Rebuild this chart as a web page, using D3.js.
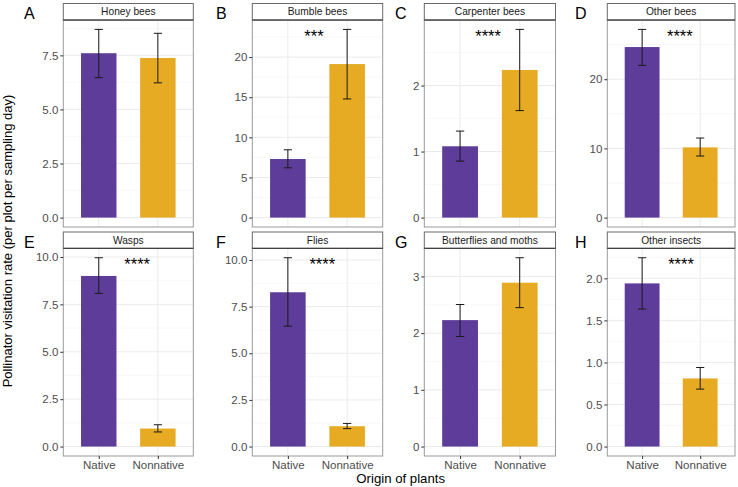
<!DOCTYPE html>
<html>
<head>
<meta charset="utf-8">
<script src="https://cdn.jsdelivr.net/npm/d3@7"></script>
<style>
  html, body { margin: 0; padding: 0; background: #fff; }
  svg { display: block; font-family: "Liberation Sans", Arial, Helvetica, sans-serif; }
</style>
</head>
<body>
<svg id="chart" width="738" height="487"></svg>
<script>
// ---------------- data ----------------
const panelTitles = ["Honey bees", "Bumble bees", "Carpenter bees", "Other bees",
                     "Wasps", "Flies", "Butterflies and moths", "Other insects"];
const panelLetters = ["A", "B", "C", "D", "E", "F", "G", "H"];
const categories = ["Native", "Nonnative"];
const nativeMean  = [7.60, 7.30, 1.08, 24.65, 9.00, 8.27, 2.23, 1.94];
const nativeLower = [6.47, 6.20, 0.855, 22.0, 8.08, 6.45, 1.94, 1.635];
const nativeUpper = [8.70, 8.45, 1.31, 27.2, 9.96, 10.12, 2.505, 2.245];
const nonnativeMean  = [7.38, 19.13, 2.236, 10.15, 0.95, 1.09, 2.89, 0.81];
const nonnativeLower = [6.23, 14.78, 1.62, 8.90, 0.77, 0.96, 2.45, 0.683];
const nonnativeUpper = [8.52, 23.45, 2.85, 11.50, 1.15, 1.24, 3.33, 0.94];
const signifLabels = ["", "***", "****", "****", "****", "****", "", "****"];
const signifX = [null, 1.44, 1.47, 1.65, 1.65, 1.58, null, 1.67];
const yTicks = [
  [0, 2.5, 5, 7.5],
  [0, 5, 10, 15, 20],
  [0, 1, 2],
  [0, 10, 20],
  [0, 2.5, 5, 7.5, 10],
  [0, 2.5, 5, 7.5, 10],
  [0, 1, 2, 3],
  [0, 0.5, 1, 1.5, 2]
];
const yTickFormats = [".1f", "d", "d", "d", ".1f", ".1f", "d", ".1f"];
const xTitle = "Origin of plants";
const yTitle = "Pollinator visitation rate (per plot per sampling day)";

// ---------------- layout ----------------
const colors = { Native: "#5E3C99", Nonnative: "#E6AB22" };
const colLeft  = [63.3, 252.3, 424.3, 607.3];
const colRight = [193.3, 382.7, 555.5, 735];
const letterX  = [24, 216, 395, 575];
const rows = [
  { stripTop: 3.5, panelTop: 20, panelBottom: 227, letterY: 18.8 },
  { stripTop: 232, panelTop: 248.3, panelBottom: 456, letterY: 247.6 }
];

const svg = d3.select("#chart");

panelTitles.forEach((title, i) => {
  const r = Math.floor(i / 4), c = i % 4;
  const row = rows[r];
  const L = colLeft[c], R = colRight[c];
  const g = svg.append("g");

  const M = Math.max(nativeUpper[i], nonnativeUpper[i]);
  const y = d3.scaleLinear().domain([-0.05 * M, 1.05 * M]).range([row.panelBottom, row.panelTop]);
  const x = d3.scaleLinear().domain([0.4, 2.6]).range([L, R]);
  const catPos = cat => x(categories.indexOf(cat) + 1);

  // minor grid
  const ticks = yTicks[i];
  const step = ticks[1] - ticks[0];
  const minors = ticks.map(t => t + step / 2).filter(v => v <= 1.05 * M);
  g.selectAll(".minor").data(minors).enter().append("line")
    .attr("x1", L).attr("x2", R)
    .attr("y1", d => y(d)).attr("y2", d => y(d))
    .attr("stroke", "#F3F3F3").attr("stroke-width", 0.6);
  // major grid
  g.selectAll(".major").data(ticks).enter().append("line")
    .attr("x1", L).attr("x2", R)
    .attr("y1", d => y(d)).attr("y2", d => y(d))
    .attr("stroke", "#EBEBEB").attr("stroke-width", 1);
  g.selectAll(".vmajor").data(categories).enter().append("line")
    .attr("x1", d => catPos(d)).attr("x2", d => catPos(d))
    .attr("y1", row.panelTop).attr("y2", row.panelBottom)
    .attr("stroke", "#EBEBEB").attr("stroke-width", 1);

  const data = [
    { cat: "Native", mean: nativeMean[i], lo: nativeLower[i], hi: nativeUpper[i] },
    { cat: "Nonnative", mean: nonnativeMean[i], lo: nonnativeLower[i], hi: nonnativeUpper[i] }
  ];
  const barW = x(1.3) - x(1);
  // bars
  g.selectAll(".bar").data(data).enter().append("rect")
    .attr("x", d => catPos(d.cat) - barW)
    .attr("width", barW * 2)
    .attr("y", d => y(d.mean))
    .attr("height", d => y(0) - y(d.mean))
    .attr("fill", d => colors[d.cat]);
  // error bars
  const capW = (x(1.07) - x(1));
  const eb = g.selectAll(".eb").data(data).enter().append("g").attr("stroke", "#1a1a1a").attr("stroke-width", 1);
  eb.append("line").attr("x1", d => catPos(d.cat)).attr("x2", d => catPos(d.cat))
    .attr("y1", d => y(d.lo)).attr("y2", d => y(d.hi));
  eb.append("line").attr("x1", d => catPos(d.cat) - capW).attr("x2", d => catPos(d.cat) + capW)
    .attr("y1", d => y(d.lo)).attr("y2", d => y(d.lo));
  eb.append("line").attr("x1", d => catPos(d.cat) - capW).attr("x2", d => catPos(d.cat) + capW)
    .attr("y1", d => y(d.hi)).attr("y2", d => y(d.hi));

  // significance
  if (signifLabels[i]) {
    g.append("text").attr("x", x(signifX[i])).attr("y", y(M) + 12.7)
      .attr("text-anchor", "middle").attr("font-size", 16.5).attr("fill", "#000")
      .text(signifLabels[i]);
  }

  // panel border
  g.append("rect").attr("x", L).attr("y", row.panelTop)
    .attr("width", R - L).attr("height", row.panelBottom - row.panelTop)
    .attr("fill", "none").attr("stroke", "#9A9A9A").attr("stroke-width", 1);
  // strip
  g.append("rect").attr("x", L).attr("y", row.stripTop)
    .attr("width", R - L).attr("height", row.panelTop - row.stripTop)
    .attr("fill", "#fff").attr("stroke", "#6a6a6a").attr("stroke-width", 1);
  g.append("line").attr("x1", L).attr("x2", R).attr("y1", row.panelTop).attr("y2", row.panelTop)
    .attr("stroke", "#333").attr("stroke-width", 1);
  g.append("text").attr("x", (L + R) / 2).attr("y", (row.stripTop + row.panelTop) / 2 + 3.6)
    .attr("text-anchor", "middle").attr("font-size", 10.2).attr("fill", "#1A1A1A")
    .text(title);

  // y axis
  const yAxis = d3.axisLeft(y).tickValues(ticks).tickFormat(d3.format(yTickFormats[i]))
    .tickSize(3).tickPadding(2);
  const ya = g.append("g").attr("transform", `translate(${L},0)`).call(yAxis);
  ya.select(".domain").remove();
  ya.selectAll(".tick line").attr("stroke", "#333");
  ya.selectAll(".tick text").attr("fill", "#4D4D4D").attr("font-size", 11.5)
    .attr("font-family", "Liberation Sans, Arial, sans-serif");

  // x axis (bottom row only)
  if (r === 1) {
    const xAxis = d3.axisBottom(x).tickValues([1, 2]).tickFormat(d => categories[d - 1])
      .tickSize(3).tickPadding(2);
    const xa = g.append("g").attr("transform", `translate(0,${row.panelBottom})`).call(xAxis);
    xa.select(".domain").remove();
    xa.selectAll(".tick line").attr("stroke", "#333");
    xa.selectAll(".tick text").attr("fill", "#4D4D4D").attr("font-size", 11.5)
      .attr("font-family", "Liberation Sans, Arial, sans-serif");
  }

  // panel letter
  svg.append("text").attr("x", letterX[c]).attr("y", row.letterY)
    .attr("font-size", 16).attr("fill", "#000").text(panelLetters[i]);
});

// axis titles
svg.append("text").attr("x", 400.7).attr("y", 482.5).attr("text-anchor", "middle")
  .attr("font-size", 13.2).attr("fill", "#000").text(xTitle);
svg.append("text").attr("transform", "translate(12,241) rotate(-90)")
  .attr("text-anchor", "middle").attr("font-size", 13).attr("fill", "#000").text(yTitle);
</script>
</body>
</html>
